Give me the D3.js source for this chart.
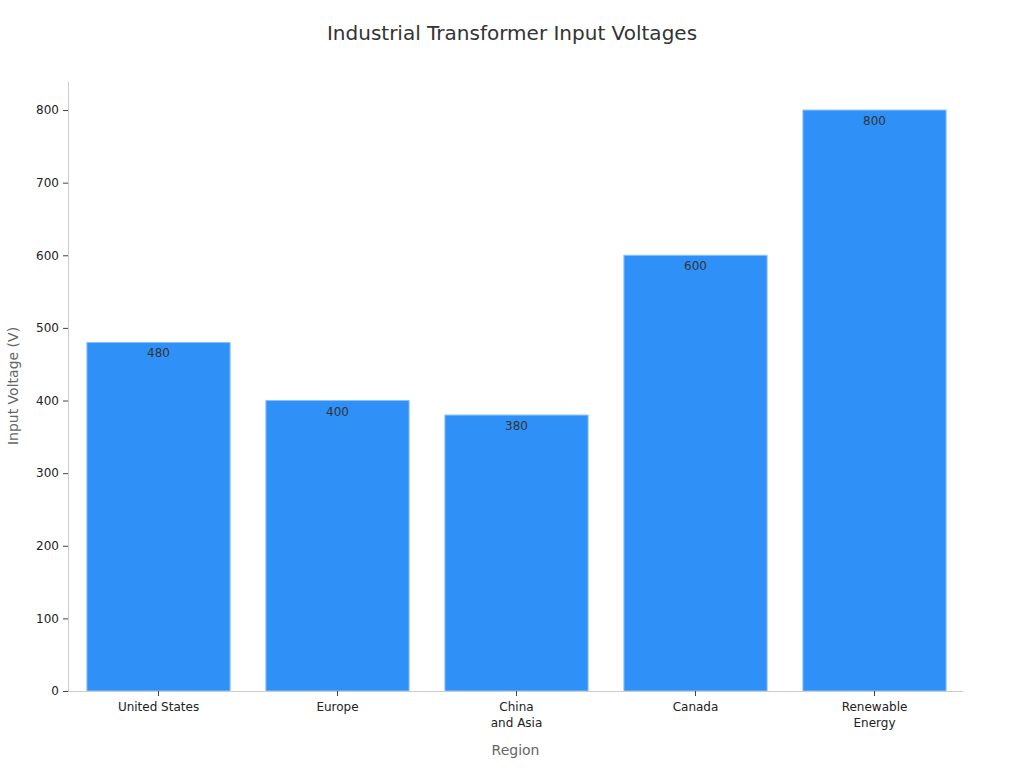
<!DOCTYPE html>
<html>
<head>
<meta charset="utf-8">
<script src="https://cdn.jsdelivr.net/npm/d3@7"></script>
<style>
  body { margin: 0; background: #fff; }
  text { font-family: "DejaVu Sans", sans-serif; }
</style>
</head>
<body>
<svg id="chart" width="1024" height="768"></svg>
<script>
'use strict';

// Données du graphique
const regions = ['United States', 'Europe', 'China\nand Asia', 'Canada', 'Renewable\nEnergy'];
const voltages = [480, 400, 380, 600, 800];
const yTicks = [0, 100, 200, 300, 400, 500, 600, 700, 800];

const svg = d3.select('#chart');
const width = 1024;
const plot = { left: 68, right: 963, top: 81, bottom: 691 };

const x = d3.scaleBand()
  .domain(regions)
  .range([plot.left + 1, plot.right + 1])
  .paddingInner(0.2)
  .paddingOuter(0.1);

const y = d3.scaleLinear()
  .domain([0, 840])
  .range([plot.bottom, plot.top]);

// Titre
svg.append('text')
  .attr('x', 512).attr('y', 40)
  .attr('text-anchor', 'middle')
  .attr('font-size', 20)
  .attr('fill', '#333')
  .text('Industrial Transformer Input Voltages');

// Barres
svg.append('g').selectAll('rect')
  .data(regions)
  .join('rect')
  .attr('x', d => x(d))
  .attr('y', (d, i) => y(voltages[i]))
  .attr('width', x.bandwidth())
  .attr('height', (d, i) => y(0) - y(voltages[i]))
  .attr('fill', '#2f91f7')
  .attr('stroke', '#8cc2fa')
  .attr('stroke-width', 1);

// Étiquettes de valeur
svg.append('g').selectAll('text')
  .data(regions)
  .join('text')
  .attr('x', d => x(d) + x.bandwidth() / 2)
  .attr('y', (d, i) => y(voltages[i]) + 15)
  .attr('text-anchor', 'middle')
  .attr('font-size', 12)
  .attr('fill', '#333')
  .text((d, i) => voltages[i]);

// Axe Y
const yAxis = svg.append('g')
  .attr('transform', `translate(${plot.left},0)`)
  .call(d3.axisLeft(y).tickValues(yTicks).tickSize(5).tickPadding(4).tickSizeOuter(0));
yAxis.select('.domain').attr('stroke', '#ccc');
yAxis.selectAll('.tick line').attr('stroke', '#444');
yAxis.selectAll('.tick text').attr('font-size', 12).attr('fill', '#222')
  .attr('font-family', '"DejaVu Sans", sans-serif');

// Axe X
const xAxis = svg.append('g')
  .attr('transform', `translate(0,${y(0)})`)
  .call(d3.axisBottom(x).tickSize(5).tickPadding(6).tickSizeOuter(0));
xAxis.select('.domain').attr('stroke', '#ccc').attr('d', `M${plot.left},0.5H${plot.right}`);
xAxis.selectAll('.tick line').attr('stroke', '#444');
xAxis.selectAll('.tick text')
  .attr('font-size', 12).attr('fill', '#222')
  .attr('font-family', '"DejaVu Sans", sans-serif')
  .each(function (d) {
    const t = d3.select(this);
    const lines = d.split('\n');
    t.text(null);
    lines.forEach((l, i) => {
      t.append('tspan').attr('x', 0).attr('dy', i === 0 ? '0.71em' : '1.35em').text(l);
    });
  });

// Titres des axes
svg.append('text')
  .attr('x', (plot.left + plot.right) / 2)
  .attr('y', 755)
  .attr('text-anchor', 'middle')
  .attr('font-size', 14)
  .attr('fill', '#666')
  .text('Region');

svg.append('text')
  .attr('transform', `translate(18,${(plot.top + plot.bottom) / 2}) rotate(-90)`)
  .attr('text-anchor', 'middle')
  .attr('font-size', 14)
  .attr('fill', '#666')
  .text('Input Voltage (V)');
</script>
</body>
</html>
